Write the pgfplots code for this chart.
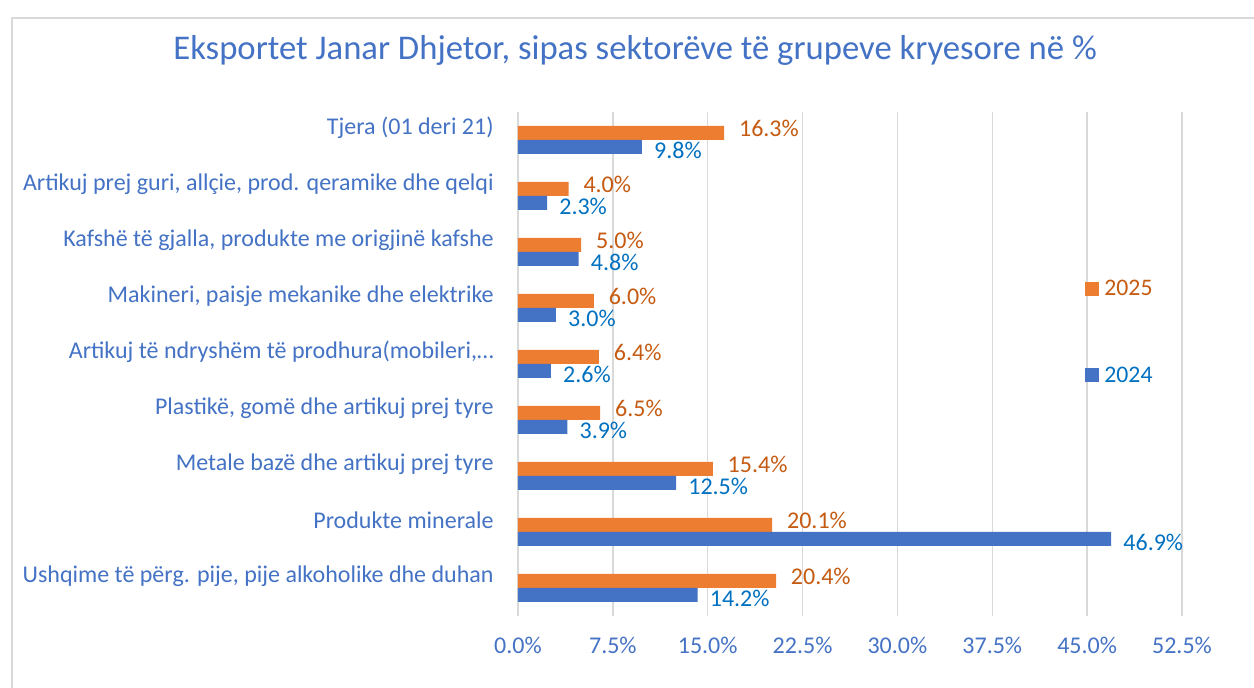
\documentclass[border=0pt]{standalone}
\usepackage{pgfplots}
\pgfplotsset{compat=1.18}
\usepackage{fontspec}
\setmainfont{Carlito}
\definecolor{cblue}{HTML}{4472C4}
\definecolor{corange}{HTML}{ED7D31}
\definecolor{olabel}{HTML}{C55A11}
\definecolor{blabel}{HTML}{0070C0}
\definecolor{gridgray}{HTML}{D9D9D9}
\pgfplotsset{/pgf/number format/assume math mode=true}
\begin{document}
\begin{tikzpicture}
\useasboundingbox (0pt,0pt) rectangle (940.5pt,516pt);
\draw[gridgray, line width=1.1pt] (9pt,-2pt) -- (9pt,502.5pt) -- (942pt,502.5pt);
\node[text=cblue, font=\fontsize{26}{30}\selectfont] at (476.25pt,478.5pt) {Eksportet Janar Dhjetor, sipas sektorëve të grupeve kryesore në \%};
\begin{axis}[
  at={(388.5pt,54pt)}, anchor=south west,
  scale only axis, width=498pt, height=378pt,
  xmin=0, xmax=52.5, ymin=-0.5, ymax=8.5,
  xtick={0,7.5,15,22.5,30,37.5,45,52.5},
  xticklabel={\pgfmathprintnumber[fixed,fixed zerofill,precision=1]{\tick}\%},
  xticklabel style={text=cblue, font=\fontsize{18}{21}\selectfont, yshift=-12pt},
  ytick={0,1,2,3,4,5,6,7,8},
  yticklabels={{Ushqime të përg. pije, pije alkoholike dhe duhan},{Produkte minerale},{Metale bazë dhe artikuj prej tyre},{Plastikë, gomë dhe artikuj prej tyre},{Artikuj të ndryshëm të prodhura(mobileri,…},{Makineri, paisje mekanike dhe elektrike},{Kafshë të gjalla, produkte me origjinë kafshe},{Artikuj prej guri, allçie, prod. qeramike dhe qelqi},{Tjera (01 deri 21)}},
  yticklabel style={text=cblue, font=\fontsize{18}{21}\selectfont, yshift=9pt, xshift=-10.5pt},
  xmajorgrids, major grid style={draw=gridgray, line width=1.1pt},
  axis line style={draw=none}, tick style={draw=none},
  xbar, bar width=10.5pt,
  point meta=x,
  nodes near coords={\pgfmathprintnumber[fixed,fixed zerofill,precision=1]{\pgfplotspointmeta}\%},
  legend image code/.code={\fill[#1,draw=none] (0pt,-5.25pt) rectangle (10.5pt,5.25pt);},
  legend style={at={(axis cs:44.5,5.6)}, anchor=north west, draw=none, fill=none, row sep=48pt, font=\fontsize{17.8}{21}\selectfont},
  legend cell align=left,
]
\addplot[fill=corange, draw=none, bar shift=5.25pt,
  nodes near coords style={text=olabel, anchor=west, inner sep=0pt, xshift=11pt, yshift=3.75pt, font=\fontsize{18}{21}\selectfont}]
  coordinates {(20.4,0) (20.1,1) (15.4,2) (6.5,3) (6.4,4) (6.0,5) (5.0,6) (4.0,7) (16.3,8)};
\addlegendentry{\hspace{2pt}\textcolor{olabel}{2025}}
\addplot[fill=cblue, draw=none, bar shift=-5.25pt,
  nodes near coords style={text=blabel, anchor=west, inner sep=0pt, xshift=9pt, yshift=-2.25pt, font=\fontsize{18}{21}\selectfont}]
  coordinates {(14.2,0) (46.9,1) (12.5,2) (3.9,3) (2.6,4) (3.0,5) (4.8,6) (2.3,7) (9.8,8)};
\addlegendentry{\hspace{2pt}\textcolor{blabel}{2024}}
\end{axis}
\end{tikzpicture}
\end{document}
